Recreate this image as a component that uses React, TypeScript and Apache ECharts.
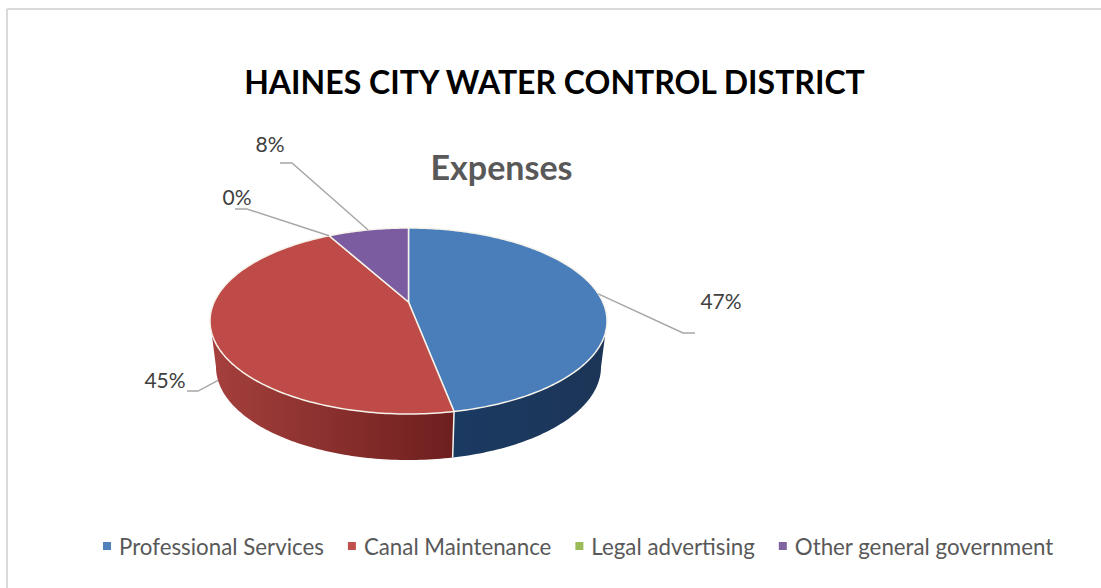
import React, { useEffect, useRef } from "react";
import * as echarts from "echarts";

const categories = ["Professional Services", "Canal Maintenance", "Legal advertising", "Other general government"];
const shares = [47, 45, 0, 8];
const legendColors = ["#4f81bd", "#c0504d", "#9bbb59", "#8064a2"];
const topColors = ["#4a7ebb", "#be4b48", "#9bbb59", "#7b5ca1"];
const wallStops = [
  ["#1b3a62", "#1c3557"],
  ["#a5403d", "#6d1f1e"],
  ["#9bbb59", "#9bbb59"],
  ["#5a4377", "#5a4377"],
];
// elbow + end of each leader line, and the label's centre
const leaderElbows = [[683, 333], [198, 391], [247, 209], [292, 163]];
const leaderEnds = [[695, 333], [187, 391], [235, 209], [280, 163]];
const labelCentres = [[721, 300], [165, 379], [237, 196], [270, 143]];

const TOP = { cx: 408.5, cy: 321, rx: 198.5, ry: 93 };
const BOTTOM = { cx: 408.5, cy: 367, rx: 192.5, ry: 93 };
const TILT = (321 - 302) / 93;

const total = shares.reduce((a, b) => a + b, 0);
const starts = shares.map((_, i) => shares.slice(0, i).reduce((a, b) => a + b, 0) / total);

function disc(frac: number) {
  const t = 2 * Math.PI * frac;
  const u = Math.sin(t);
  const v = Math.cos(t);
  const w = 1 + TILT * v;
  return { U: (u * Math.sqrt(1 - TILT * TILT)) / w, V: (v + TILT) / w };
}
function onEllipse(e: typeof TOP, frac: number) {
  const { U, V } = disc(frac);
  return [e.cx + e.rx * U, e.cy - e.ry * V];
}
const FRONT_FROM = Math.acos(-TILT) / (2 * Math.PI);
const FRONT_TO = 1 - FRONT_FROM;

function arc(e: typeof TOP, a: number, b: number) {
  const n = Math.max(2, Math.ceil((b - a) * 360));
  const pts: number[][] = [];
  for (let i = 0; i <= n; i++) pts.push(onEllipse(e, a + ((b - a) * i) / n));
  return pts;
}

function makeRender(index: number) {
  return (_params: any, api: any) => {
    const value = api.value(0) as number;
    const start = starts[index];
    const end = start + value / total;
    const mid = (start + end) / 2;
    const children: any[] = [];
    const a = Math.max(start, FRONT_FROM);
    const b = Math.min(end, FRONT_TO);
    if (b > a) {
      children.push({
        type: "polygon",
        shape: { points: [...arc(TOP, a, b), ...arc(BOTTOM, a, b).reverse()] },
        style: {
          fill: {
            type: "linear", x: 0, y: 0, x2: 1, y2: 0,
            colorStops: [
              { offset: 0, color: wallStops[index][0] },
              { offset: 1, color: wallStops[index][1] },
            ],
          },
        },
      });
      if (start > FRONT_FROM) {
        const p = onEllipse(TOP, start);
        const q = onEllipse(BOTTOM, start);
        children.push({
          type: "line",
          shape: { x1: p[0], y1: p[1], x2: q[0], y2: q[1] },
          style: { stroke: "#f4f4f0", lineWidth: 1.5 },
          z2: 3,
        });
      }
    }
    if (end > start) {
      children.push({
        type: "polygon",
        shape: { points: [[TOP.cx, TOP.cy - TOP.ry * TILT], ...arc(TOP, start, end)] },
        style: { fill: topColors[index], stroke: "#f6f3ea", lineWidth: 1.5, lineJoin: "round" },
        z2: 2,
      });
    }
    const visibleWall = mid > FRONT_FROM && mid < FRONT_TO && disc(mid).V < -0.05 && disc(mid).U < -0.5;
    const anchor = onEllipse(visibleWall ? BOTTOM : TOP, mid);
    children.push({
      type: "polyline",
      shape: { points: [anchor, leaderElbows[index], leaderEnds[index]] },
      style: { stroke: "#a6a6a6", lineWidth: 1.4, fill: "none" },
      z2: 4,
    });
    children.push({
      type: "text",
      style: {
        text: `${value}%`,
        x: labelCentres[index][0],
        y: labelCentres[index][1],
        align: "center",
        verticalAlign: "middle",
        fill: "#404040",
        font: '21px Lato',
      },
      z2: 5,
    });
    return { type: "group", children };
  };
}

export default function App() {
  const ref = useRef<HTMLDivElement>(null);
  useEffect(() => {
    document.body.style.margin = "0";
    const chart = echarts.init(ref.current!, undefined, { renderer: "svg" });
    chart.setOption({
      animation: false,
      backgroundColor: "#ffffff",
      title: [
        {
          text: "HAINES CITY WATER CONTROL DISTRICT",
          left: 549.5, top: 60, textAlign: "center",
          textStyle: { fontFamily: "Lato", fontWeight: "bold", fontSize: 32, color: "#000000" },
        },
        {
          text: "Expenses",
          left: 496.5, top: 144, textAlign: "center",
          textStyle: { fontFamily: "Lato", fontWeight: "bold", fontSize: 34, color: "#595959" },
        },
      ],
      legend: {
        left: 98, top: 530,
        icon: "rect", itemWidth: 8, itemHeight: 8, itemGap: 24,
        data: categories,
        textStyle: { fontFamily: "Lato", fontSize: 22.3, color: "#595959", padding: [0, 0, 0, 3] },
        selectedMode: false,
      },
      graphic: [
        {
          type: "line", silent: true, z: -1,
          shape: { x1: 7, y1: 9, x2: 1101, y2: 9 },
          style: { stroke: "#d9d9d9", lineWidth: 2 },
        },
        {
          type: "line", silent: true, z: -1,
          shape: { x1: 7, y1: 9, x2: 7, y2: 588 },
          style: { stroke: "#d9d9d9", lineWidth: 2 },
        },
      ],
      series: categories.map((name, i) => ({
        type: "custom",
        name,
        coordinateSystem: "none",
        silent: true,
        itemStyle: { color: legendColors[i] },
        renderItem: makeRender(i),
        data: [[shares[i]]],
      })),
    });
    return () => chart.dispose();
  }, []);
  return <div ref={ref} style={{ position: "absolute", left: 0, top: 0, width: 1101, height: 588 }} />;
}
